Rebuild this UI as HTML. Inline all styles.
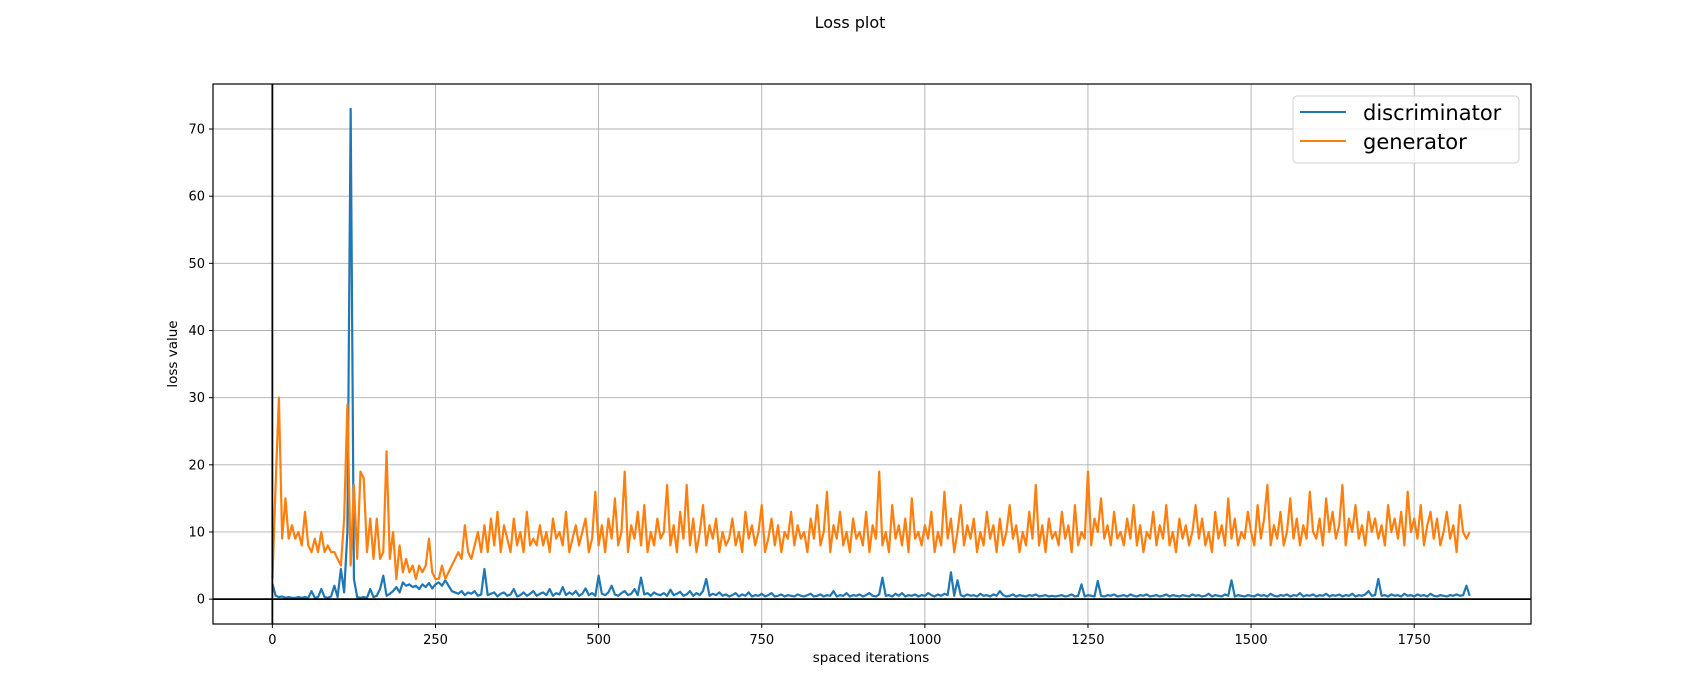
<!DOCTYPE html>
<html><head><meta charset="utf-8"><style>
body{margin:0;background:#fff;}
svg{display:block;font-family:"DejaVu Sans","Liberation Sans",sans-serif;}
</style></head><body>
<svg id="chart" width="1700" height="700">
<text x="850" y="28" text-anchor="middle" font-size="16">Loss plot</text>
<g id="grid"></g>
<g id="ticks"></g>
<g id="series"></g>
<rect x="213" y="84" width="1318" height="540" fill="none" stroke="#000" stroke-width="1.2"/>
<text x="871" y="662" text-anchor="middle" font-size="13.5">spaced iterations</text>
<text transform="translate(177,354) rotate(-90)" text-anchor="middle" font-size="13.5">loss value</text>
<g>
<rect x="1293" y="96" width="226" height="67" rx="4" fill="#fff" fill-opacity="0.8" stroke="#d0d0d0"/>
<line x1="1300" y1="112" x2="1346" y2="112" stroke="#1f77b4" stroke-width="2"/>
<text x="1363" y="120" font-size="21">discriminator</text>
<line x1="1300" y1="141" x2="1346" y2="141" stroke="#ff7f0e" stroke-width="2"/>
<text x="1363" y="149" font-size="21">generator</text>
</g>
</svg>
<script>
const xTicks=[0,250,500,750,1000,1250,1500,1750];
const yTicks=[0,10,20,30,40,50,60,70];
const step=5;
const generator=[3,17,30,9,15,9,11,9,10,8,13,8,7,9,7,10,7,8,7,7,
6,5,12,29,5,17,6,19,18,7,12,6,12,6,7,22,6,10,3,8,
4,6,4,5,3,5,4,5,9,4,3,3,5,3,4,5,6,7,6,11,
7,6,8,10,7,11,7,12,8,13,7,11,9,7,12,8,10,7,13,8,
9,8,11,8,10,7,12,9,10,8,13,7,9,11,8,10,12,7,9,16,
8,11,7,12,9,15,8,10,19,7,11,9,13,8,14,7,10,8,12,9,
10,17,8,11,7,13,9,17,8,12,7,10,14,8,11,9,12,7,10,8,
9,12,8,10,7,13,9,11,8,10,14,7,9,12,8,11,7,10,9,13,
8,11,9,10,7,12,9,14,8,10,16,7,11,9,13,8,10,7,12,9,
10,8,13,7,11,9,19,8,10,7,14,9,11,8,12,7,15,9,10,8,
11,9,13,7,10,8,16,9,12,7,10,14,8,11,9,12,7,10,8,13,
9,11,7,12,8,10,14,9,11,7,10,8,13,9,17,8,11,7,12,9,
10,8,13,9,11,7,14,8,10,9,19,8,12,10,15,9,11,8,13,9,
10,8,12,9,14,8,11,7,10,9,13,8,11,9,14,8,10,7,12,9,
11,8,10,14,9,12,8,10,7,13,9,11,8,15,9,12,8,10,9,13,
10,8,14,9,12,17,8,11,9,13,8,10,15,9,12,8,11,9,16,10,
9,12,8,15,10,13,9,11,17,8,12,10,14,9,11,8,13,10,12,9,
11,8,14,10,12,9,13,8,16,10,12,9,14,8,11,13,9,12,8,10,
13,9,11,7,14,10,9,10];
const discriminator=[2.3,0.5,0.3,0.4,0.2,0.3,0.2,0.2,0.3,0.2,0.3,0.2,1.2,0.2,0.3,1.5,0.3,0.2,0.4,2.0,
0.3,4.5,1,10,73,3,0.3,0.2,0.3,0.2,1.5,0.3,0.5,1.5,3.5,0.5,0.8,1.2,1.8,1,
2.5,2,2.2,1.8,2,1.5,2.2,1.8,2.4,1.6,2.2,2.5,2,2.8,2,1.2,1,0.8,1.2,0.6,
1,0.8,1.2,0.5,0.7,4.5,0.6,0.8,1,0.4,0.8,1,0.5,0.7,1.5,0.4,0.6,1,0.5,0.8,
1.2,0.5,0.8,1,0.6,1.5,0.5,0.9,0.7,1.8,0.6,1,0.7,1.2,0.5,0.8,1.6,0.6,0.9,0.5,
3.5,0.8,0.6,1,2,0.7,0.5,0.9,1.2,0.6,0.8,1.5,0.6,3.2,0.7,0.9,0.5,1,0.7,0.6,
0.9,0.5,1.4,0.6,0.8,1.1,0.5,0.7,1.2,0.5,0.9,0.6,1.2,3.0,0.5,0.8,0.6,1,0.5,0.7,
0.4,0.6,0.9,0.4,0.7,0.5,1,0.4,0.6,0.5,0.8,0.4,0.6,0.9,0.4,0.5,0.7,0.4,0.6,0.5,
0.4,0.7,0.5,0.4,0.6,0.8,0.4,0.5,0.7,0.4,0.6,0.5,1.2,0.4,0.6,0.5,0.9,0.4,0.6,0.5,
0.7,0.4,0.6,0.9,0.5,0.4,0.7,3.2,0.5,0.6,0.4,0.8,0.5,0.9,0.4,0.6,0.5,0.7,0.4,0.6,
0.5,0.9,0.6,0.4,0.7,0.5,0.8,0.6,4,0.5,2.8,0.6,0.4,0.7,0.5,0.6,0.4,0.8,0.5,0.6,
0.4,0.7,0.5,1.2,0.6,0.4,0.5,0.7,0.4,0.6,0.5,0.4,0.6,0.5,0.7,0.4,0.5,0.6,0.4,0.5,
0.4,0.5,0.6,0.4,0.5,0.7,0.4,0.5,2.2,0.4,0.6,0.5,0.4,2.7,0.5,0.4,0.6,0.5,0.7,0.4,
0.5,0.6,0.4,0.7,0.5,0.4,0.6,0.5,0.7,0.4,0.5,0.6,0.4,0.5,0.7,0.4,0.6,0.5,0.4,0.6,
0.5,0.4,0.7,0.5,0.6,0.4,0.5,0.8,0.4,0.6,0.5,0.4,0.7,0.5,2.8,0.4,0.6,0.5,0.4,0.6,
0.5,0.4,0.7,0.5,0.6,0.4,0.8,0.5,0.4,0.6,0.5,0.7,0.4,0.6,0.5,0.9,0.4,0.6,0.5,0.7,
0.4,0.6,0.5,0.8,0.4,0.6,0.5,0.7,0.4,0.6,0.5,0.8,0.4,0.6,0.5,0.7,1.2,0.5,0.6,3.0,
0.5,0.6,0.4,0.7,0.5,0.6,0.4,0.8,0.5,0.6,0.4,0.7,0.5,0.6,0.4,0.8,0.5,0.4,0.6,0.5,
0.4,0.6,0.5,0.7,0.5,0.6,2,0.5];
const xMin=-91,xMax=1929,yMin=-3.7,yMax=76.7;
const L=213,R=1531,T=84,B=624;
function sx(v){return L+(v-xMin)/(xMax-xMin)*(R-L);}
function sy(v){return B-(v-yMin)/(yMax-yMin)*(B-T);}
const NS='http://www.w3.org/2000/svg';
function mk(tag,attrs,parent){const e=document.createElementNS(NS,tag);for(const k in attrs)e.setAttribute(k,attrs[k]);parent.appendChild(e);return e;}
const grid=document.getElementById('grid'),ticks=document.getElementById('ticks'),series=document.getElementById('series');
xTicks.forEach(t=>{
 const x=sx(t);
 const g=mk('line',{x1:x,y1:T,x2:x,y2:B,stroke:'#b0b0b0','stroke-width':0.9},grid);
 
 
 const tk=mk('line',{x1:x,y1:B,x2:x,y2:B+4,stroke:'#000'},ticks);
 
 
 const tx=mk('text',{x:x,y:B+20,'text-anchor':'middle','font-size':13},ticks);
 tx.textContent=t;
 
 
});
yTicks.forEach(t=>{
 const y=sy(t);
 const g=mk('line',{x1:L,y1:y,x2:R,y2:y,stroke:'#b0b0b0','stroke-width':0.9},grid);
 
 
 const tk=mk('line',{x1:L-4,y1:y,x2:L,y2:y,stroke:'#000'},ticks);
 
 
 const tx=mk('text',{x:L-8,y:y+4.5,'text-anchor':'end','font-size':13},ticks);
 tx.textContent=t;
 
 
});
function path(arr,color,name){
 const d=arr.map((v,i)=>(i?'L':'M')+sx(i*step).toFixed(2)+','+sy(v).toFixed(2)).join('');
 const p=mk('path',{d:d,fill:'none',stroke:color,'stroke-width':2.2,'stroke-linejoin':'round'},series);
 
 
}
path(discriminator,'#1f77b4','discriminator-line');
path(generator,'#ff7f0e','generator-line');
const h=mk('line',{x1:L,y1:sy(0),x2:R,y2:sy(0),stroke:'#000','stroke-width':1.8},series);


const v=mk('line',{x1:sx(0),y1:T,x2:sx(0),y2:B,stroke:'#000','stroke-width':1.8},series);


</script>
</body></html>
